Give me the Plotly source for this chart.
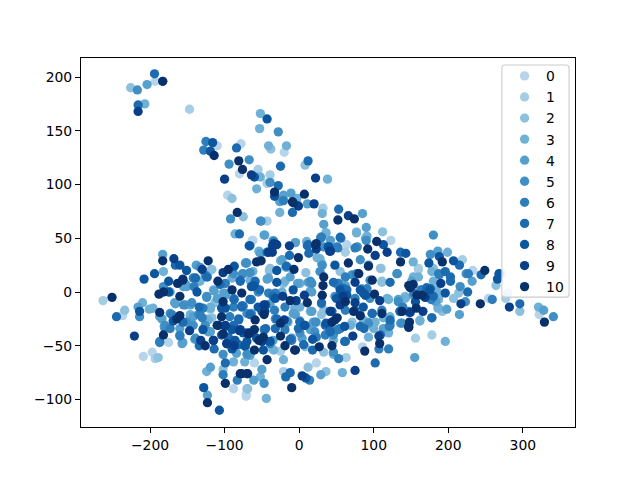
import plotly.graph_objects as go

labels = ["0", "1", "2", "3", "4", "5", "6", "7", "8", "9", "10"]
colors = ["#b7d4ea", "#a5cde3", "#8cc0dd", "#6fb0d7", "#56a0ce", "#3f8fc5",
          "#2e7ebc", "#1c6bb0", "#0c56a0", "#083f88", "#08306b"]

s0 = [(-193,196),(-110,136),(-78,138),(-20,130),(-80,110),(-96,90),(-63,48),(-175,-47),(-209,-60),(-197,-56),
      (-237,-22),(-88,-90),(-71,-95),(-62,48),(64,44),(123,48),(85,-51),(-60,-66),(23,-66),(-71,-97),
      (233,20),(272,17),(254,-6),(280,-1),(322,-21)]
s1 = [(-147,170),(-55,114),(-39,109),(-43,101),(-43,66),(32,78),(-263,-8),(-193,-62),(62,37),(110,22),
      (-25,-55),(63,-61),(-21,-74),(219,30),(160,21),(277,-6),(156,-43),(178,-40),(160,22)]
s2 = [(-226,190),(-38,133),(8,118),(-90,87),(-75,70),(-117,21),(-113,-10),(-119,-16),(-234,-17),(-189,-61),
      (-102,-72),(-69,-90),(77,56),(112,56),(36,55),(55,19),(9,18),(-40,20),(111,9),(33,-17),
      (-36,-53),(33,-56),(12,-70),(36,-74),(-70,-90),(180,22),(264,6),(214,-1),(207,-6),(185,-6),
      (296,-18),(192,-18),(-119,20),(-122,-25),(-15,23),(-39,22),(109,22),(111,10),(142,-4),(162,-26),
      (-117,-24),(30,-21),(71,-28),(8,-51),(-21,8)]
s3 = [(-207,175),(-52,166),(-53,152),(-41,136),(-17,136),(-52,107),(38,105),(-57,96),(-3,87),(31,73),
      (-26,74),(-86,54),(36,55),(10,47),(-182,19),(-90,13),(-102,-1),(-146,-21),(-210,-10),(-201,-16),
      (-196,-15),(-181,-32),(-122,-26),(-88,-65),(-73,-65),(-124,-74),(-46,53),(-5,46),(-53,37),(-25,29),
      (24,32),(-18,23),(120,-7),(143,-5),(-6,-15),(15,-18),(147,-19),(23,-28),(69,-31),(93,-28),
      (93,-42),(46,-58),(-21,-63),(58,-75),(-52,-79),(-44,-99),(199,37),(160,14),(180,10),(184,2),
      (189,-2),(142,-6),(187,-7),(321,-14),(186,-15),(162,-27),(196,-46),(-133,10),(-115,2),(-119,-15),
      (-19,10),(-23,0),(1,8),(30,27),(1,-14),(-15,-28),(46,-45),(89,50),(153,14),(178,19),
      (185,-3),(122,-23),(187,-15),(102,-28),(-119,-14),(-146,-23),(-34,-54),(86,-26),(113,-24),(120,-38),
      (100,-34),(-54,38),(-35,48),(-62,19),(-66,11),(77,55),(91,52),(28,31),(153,28),(118,-6)]
s4 = [(-204,193),(-183,196),(-21,90),(-11,92),(-26,84),(11,82),(33,63),(-47,53),(-5,46),(-183,35),
      (-138,25),(-152,7),(-71,27),(-167,-10),(-114,1),(-152,-12),(-216,-14),(-187,-23),(-122,-37),(-156,-47),
      (-140,-44),(-84,-57),(-119,-70),(-123,-96),(90,60),(85,73),(-70,27),(-43,12),(-12,14),(132,17),
      (15,1),(133,-7),(122,-28),(113,-34),(4,-43),(29,-77),(-61,-82),(186,38),(151,10),(232,10),
      (198,-16),(215,-21),(328,-17),(155,-61),(-50,-72),(-155,5),(-173,0),(-75,17),(-99,-3),(-110,-6),
      (-146,-12),(-166,-11),(-142,-23),(-184,-25),(-119,-37),(-157,-48),(-52,36),(-23,30),(-41,13),(12,9),
      (17,0),(17,-18),(-8,-20),(-39,-11),(19,-28),(-35,-45),(153,-3),(183,-9),(-160,-34),(-66,-59),
      (-5,-21),(15,-35),(136,-29),(-2,8),(-151,5),(-100,-1),(29,51),(42,48),(62,6),(84,3)]
s5 = [(-217,188),(-28,149),(-67,123),(-94,119),(-39,102),(-92,68),(-52,66),(33,42),(-123,14),(-76,17),
      (-124,-5),(-144,-10),(-135,-21),(-180,-34),(-214,-23),(-102,-58),(-70,-58),(-182,5),(78,42),(90,48),
      (31,25),(-66,18),(17,8),(53,8),(1,-27),(55,-34),(138,-29),(-51,66),(180,53),(176,35),
      (224,17),(216,5),(223,-9),(163,2),(341,-23),(-47,-85),(-133,23),(-126,16),(-88,17),(-72,27),
      (-124,-4),(-155,-12),(-88,-6),(-70,-20),(-180,-31),(-173,-20),(-151,-28),(-142,-31),(-126,-31),(-160,-40),
      (-55,0),(28,19),(48,-4),(41,-18),(30,-11),(-64,-20),(-32,-25),(-10,-43),(1,-38),(21,-37),
      (82,30),(93,25),(131,17),(95,11),(95,-6),(133,-9),(122,-31),(178,-24),(-16,-27),(-139,-43),
      (-72,-51),(22,-28),(46,-40),(93,-29),(46,-56),(71,16),(51,7),(15,10)]
s6 = [(-128,132),(-125,140),(-21,85),(29,50),(-34,47),(-141,5),(-129,-15),(-171,-21),(-173,-34),(-187,-47),
      (-160,-41),(-102,-77),(-83,-82),(56,50),(30,51),(52,41),(62,14),(-33,-17),(-75,-13),(-47,-35),
      (-39,-48),(-72,-50),(107,-53),(120,-53),(53,-62),(14,-82),(188,16),(227,17),(154,-1),(177,-7),
      (259,-7),(139,-14),(-142,13),(-99,8),(-88,-14),(-93,-23),(-133,-21),(-187,-46),(-41,-1),(52,8),
      (61,0),(-32,-1),(-64,-7),(52,-35),(-19,-35),(-46,-35),(23,-42),(75,41),(187,17),(77,17),
      (91,3),(75,-6),(165,2),(98,-20),(111,-17),(147,-18),(-130,-24),(-19,-14),(62,-17),(55,-34),
      (35,-40),(121,-32),(-10,-45),(51,42)]
s7 = [(-194,203),(-216,174),(-84,134),(12,122),(-25,117),(-28,99),(-9,74),(-80,54),(11,43),(-166,25),
      (-139,13),(-79,10),(-106,7),(-87,-7),(-77,-13),(-134,-14),(-245,-23),(-156,-28),(-81,-26),(-134,-50),
      (-114,-53),(-99,-66),(53,77),(-66,43),(12,44),(13,36),(136,37),(-43,37),(-13,34),(122,9),
      (-59,10),(-53,2),(64,2),(57,3),(-66,-7),(30,-10),(98,-20),(135,-18),(-30,-25),(42,-37),
      (87,-34),(62,-46),(-12,-44),(18,-54),(102,-66),(-18,-79),(-12,-75),(215,25),(203,14),(203,10),
      (171,4),(226,0),(180,-4),(244,16),(296,-11),(178,-24),(-79,11),(-77,-14),(-81,-25),(-88,-31),
      (-95,-42),(-81,-49),(-59,5),(46,9),(1,-28),(35,-31),(41,-35),(6,-49),(61,-46),(196,19),
      (176,3),(89,-3),(75,-17),(136,-18),(82,-32),(-66,-21),(-32,-34),(-45,-34),(-1,-34),(44,-18),
      (122,-26),(109,-40),(-17,24),(-124,14),(-35,-4),(55,51),(60,3)]
s8 = [(-43,161),(-116,139),(-119,131),(-60,107),(-33,89),(-67,43),(-194,17),(-208,12),(-151,20),(-175,10),
      (-87,24),(-137,0),(-175,0),(-99,-15),(-214,-18),(-169,-27),(-129,-35),(-90,-35),(-128,-89),(-107,-110),
      (-90,-53),(-73,-50),(113,44),(40,42),(143,36),(48,25),(-30,20),(-30,9),(-61,6),(-8,2),
      (89,-3),(-32,-6),(86,-14),(-50,-18),(7,-31),(36,-29),(-75,-38),(18,-44),(-48,-54),(9,-80),
      (188,33),(174,27),(207,29),(175,2),(156,-9),(268,17),(266,12),(-104,-15),(-99,-32),
      (-70,-38),(-104,-40),(-86,-45),(-115,-45),(-97,-48),(-70,-46),(55,2),(-55,-14),(8,-31),(61,-32),
      (-57,-43),(82,2),(196,-1),(-45,-12),(-39,-46),(-36,43),(-160,25),(-64,5),(39,42),(86,-1),
      (64,-3),(50,-6)]
s9 = [(-216,168),(-64,109),(-100,105),(22,106),(-1,80),(20,82),(-34,43),(-30,44),(-13,43),(-168,31),
      (-130,21),(-156,12),(-102,18),(-99,-31),(-80,-36),(-147,-36),(-221,-41),(-132,-45),(-115,-45),(-97,-48),
      (-87,-50),(66,71),(-34,45),(23,40),(41,38),(118,37),(102,34),(-36,37),(75,9),
      (7,-3),(-22,-4),(-4,-8),(55,-12),(75,-10),(108,-8),(-47,-12),(42,-18),(-20,-26),(107,-41),
      (72,-41),(-50,-46),(4,-78),(75,-73),(-69,-76),(190,8),(169,-5),(217,-11),(282,-14),(149,-19),
      (166,-18),(-108,-31),(-79,-35),(59,-4),(-46,-18),(48,-26),(-41,37),(42,38)]
s10 = [(-183,196),(-114,127),(-81,122),(-76,114),(-33,93),(-9,84),(7,91),(-83,74),(22,44),(-183,29),
       (-122,29),(-95,21),(-163,8),(-109,10),(-182,0),(-188,-2),(-160,-4),(-90,2),(-77,-1),(-102,-9),
       (-251,-5),(-187,-19),(-160,-22),(-164,-25),(-104,-23),(-110,-31),(-102,-39),(-68,-39),(-182,-40),(-126,-50),
       (-79,-76),(-70,-76),(-99,-85),(-123,-103),(-8,83),(52,67),(74,68),(23,45),(104,47),(92,40),
       (136,28),(-1,32),(-57,28),(-51,29),(66,27),(93,24),(-7,21),(80,17),(33,14),(98,11),
       (147,6),(32,6),(31,-3),(101,-2),(-12,-8),(11,-10),(62,-9),(73,-18),(82,-22),
       (111,-20),(-47,-21),(-59,-26),(-25,-29),(44,-28),(51,-24),(147,-32),(-66,-38),(-60,-35),(-25,-41),
       (-48,-42),(-54,-45),(-60,-54),(-19,-50),(-6,-54),(27,-51),(44,-50),(88,-55),(108,-48),(-43,-63),
       (-77,-76),(-10,-89),(192,28),(249,20),(153,7),(149,4),(165,-3),(243,-11),(329,-28),(157,-15),
       (138,-18),(148,-28),(147,-33),(-156,11),(-5,-54),(158,-3)]
series = [s0, s1, s2, s3, s4, s5, s6, s7, s8, s9, s10]

fig = go.Figure()
for name, color, pts in zip(labels, colors, series):
    fig.add_trace(go.Scatter(
        x=[p[0] for p in pts], y=[p[1] for p in pts], mode="markers", name=name,
        legendgroup=name, marker=dict(color=color, size=9.3, line=dict(width=0))))

axis = dict(showgrid=False, zeroline=False, showline=True, mirror=True, linecolor="black",
            linewidth=1.1, ticks="outside", ticklen=5, tickwidth=1.1, tickcolor="black",
            tickfont=dict(size=13.9, color="black"))
fig.update_layout(
    width=640, height=480, margin=dict(l=73, r=73, t=50, b=61), plot_bgcolor="white",
    paper_bgcolor="white", font=dict(family="DejaVu Sans", size=13.9, color="black"),
    xaxis=dict(range=[-292.6, 370], tickvals=[-200, -100, 0, 100, 200, 300], **axis),
    yaxis=dict(range=[-125.6, 217.7], tickvals=[-100, -50, 0, 50, 100, 150, 200], **axis),
    shapes=[dict(type="path", xref="paper", yref="paper", layer="above",
                 path="M 0.858,0.981 L 0.982,0.981 Q 0.988,0.981 0.988,0.973 L 0.988,0.360 "
                      "Q 0.988,0.352 0.982,0.352 L 0.858,0.352 Q 0.852,0.352 0.852,0.360 "
                      "L 0.852,0.973 Q 0.852,0.981 0.858,0.981 Z",
                 fillcolor="rgba(255,255,255,0.8)", line=dict(color="#cccccc", width=1.1))],
    legend=dict(x=0.988, xanchor="right", y=0.9936, yanchor="top", bgcolor="rgba(0,0,0,0)",
                borderwidth=0, tracegroupgap=0, itemwidth=33, font=dict(size=13.9)))
fig.write_html("out.html")
